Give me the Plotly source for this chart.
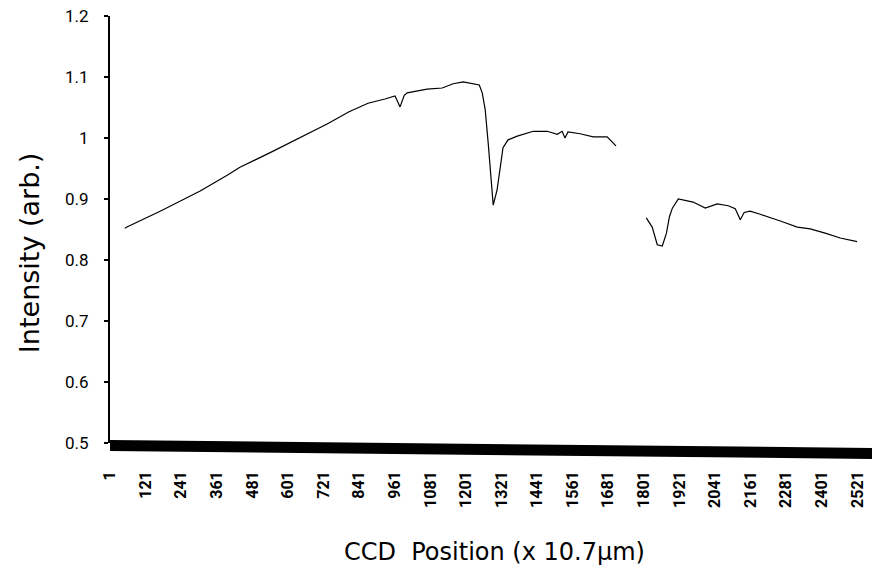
import plotly.graph_objects as go

# CCD pixel index and measured intensity (arbitrary units); None marks an unrecorded stretch
ccd_position = [51, 58, 170, 254, 305, 396, 439, 541, 682, 733, 807, 871, 928, 962, 979,
                993, 1003, 1070, 1121, 1158, 1192, 1225, 1246, 1256, 1266, 1276, 1286,
                1293, 1306, 1316, 1326, 1343, 1374, 1428, 1475, 1509, 1525, 1535, 1545,
                1586, 1630, 1677, 1707, 1758, 1809, 1829, 1846, 1863, 1877, 1887, 1897,
                1917, 1967, 2008, 2048, 2085, 2109, 2126, 2139, 2159, 2193, 2234, 2261,
                2318, 2362, 2412, 2463, 2520]
intensity = [0.852, 0.854, 0.880, 0.900, 0.913, 0.939, 0.952, 0.976, 1.010, 1.023, 1.043,
             1.057, 1.064, 1.069, 1.051, 1.070, 1.074, 1.080, 1.082, 1.089, 1.092, 1.089,
             1.087, 1.074, 1.046, 0.992, 0.936, 0.890, 0.915, 0.952, 0.984, 0.997, 1.003,
             1.011, 1.011, 1.006, 1.011, 1.000, 1.010, 1.007, 1.002, 1.002, 0.987, None,
             0.869, 0.854, 0.825, 0.823, 0.844, 0.871, 0.885, 0.900, 0.895, 0.885, 0.892,
             0.889, 0.884, 0.866, 0.878, 0.880, 0.875, 0.869, 0.864, 0.854, 0.851, 0.844,
             0.836, 0.830]

x_tick_values = list(range(1, 2522, 120))
x_tick_labels = [str(v) for v in x_tick_values]
y_tick_values = [0.5, 0.6, 0.7, 0.8, 0.9, 1.0, 1.1, 1.2]
y_tick_labels = ["0.5", "0.6", "0.7", "0.8", "0.9", "1", "1.1", "1.2"]

tick_font = "Roboto, Liberation Sans, Arial, sans-serif"
title_font = "DejaVu Sans, Noto Sans, sans-serif"

fig = go.Figure()
fig.add_trace(go.Scatter(
    x=ccd_position, y=intensity, mode="lines",
    line=dict(color="black", width=1.2),
    connectgaps=False, showlegend=False, hoverinfo="skip",
))

fig.update_layout(
    width=872, height=575,
    margin=dict(l=110, r=0, t=16, b=132),
    paper_bgcolor="white", plot_bgcolor="white",
    xaxis=dict(
        range=[1, 2570], tickmode="array",
        tickvals=x_tick_values, ticktext=x_tick_labels,
        tickangle=-90, showgrid=False, zeroline=False, showline=False,
        ticks="", ticklabelstandoff=24,
        tickfont=dict(family=tick_font, size=16, color="black", weight=700),
    ),
    yaxis=dict(
        range=[0.5, 1.2], tickmode="array",
        tickvals=y_tick_values, ticktext=y_tick_labels,
        showgrid=False, zeroline=False,
        showline=True, linecolor="black", linewidth=2,
        ticks="outside", ticklen=4, tickwidth=1.5, tickcolor="black",
        ticklabelstandoff=12,
        tickfont=dict(family=tick_font, size=17, color="black"),
    ),
    annotations=[
        dict(text="Intensity (arb.)", xref="paper", yref="paper",
             x=-0.1063, y=0.447, xanchor="center", yanchor="middle",
             showarrow=False, textangle=-90,
             font=dict(family=title_font, size=27, color="black")),
        dict(text="CCD  Position (x 10.7μm)", xref="paper", yref="paper",
             x=0.505, y=-0.2553, xanchor="center", yanchor="middle",
             showarrow=False,
             font=dict(family=title_font, size=24, color="black")),
    ],
    shapes=[
        # heavy baseline band along the bottom of the plot area
        dict(type="path", xref="paper", yref="paper",
             path="M 0 0.0070 L 1 -0.0117 L 1 -0.0375 L 0 -0.0187 Z",
             fillcolor="black", line=dict(width=0), layer="above"),
    ],
)

fig.write_html("out.html")
